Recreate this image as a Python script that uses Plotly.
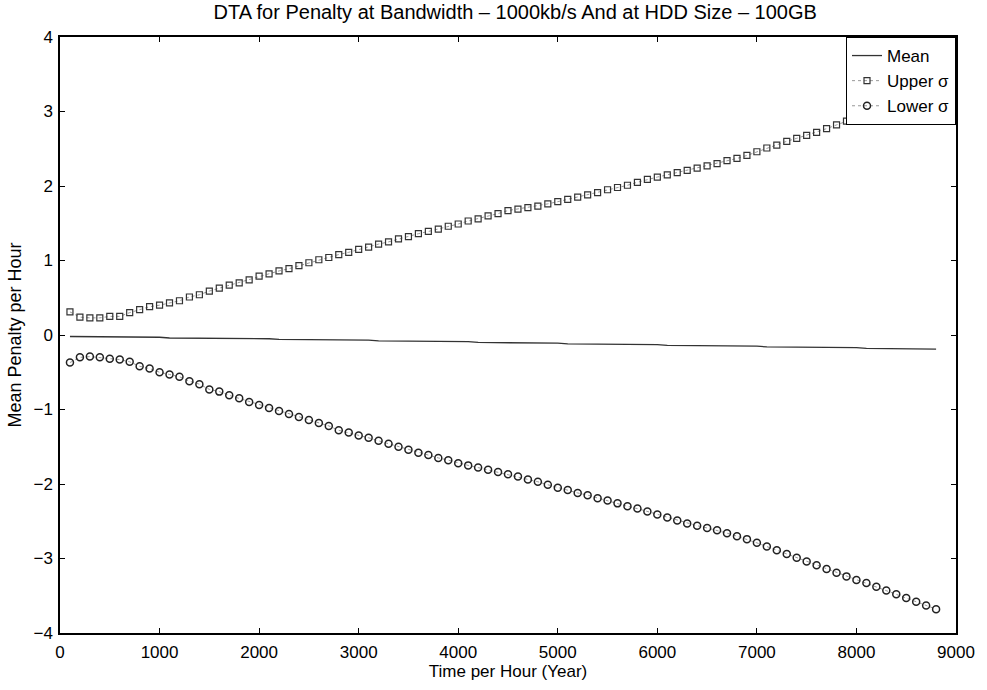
import plotly.graph_objects as go

# time points (hours)
hours = list(range(100, 8900, 100))

upper_sigma = [
    0.31, 0.24, 0.23, 0.23, 0.25, 0.25, 0.30, 0.34, 0.38, 0.40,
    0.43, 0.46, 0.51, 0.54, 0.59, 0.63, 0.67, 0.70, 0.74, 0.79,
    0.82, 0.86, 0.89, 0.93, 0.97, 1.01, 1.04, 1.08, 1.11, 1.15,
    1.18, 1.22, 1.25, 1.29, 1.32, 1.36, 1.39, 1.42, 1.46, 1.49,
    1.53, 1.56, 1.60, 1.63, 1.67, 1.69, 1.71, 1.73, 1.76, 1.79,
    1.82, 1.85, 1.88, 1.91, 1.95, 1.98, 2.01, 2.05, 2.09, 2.12,
    2.15, 2.18, 2.21, 2.24, 2.27, 2.30, 2.34, 2.37, 2.41, 2.46,
    2.51, 2.55, 2.60, 2.64, 2.68, 2.72, 2.77, 2.82, 2.87, 2.92,
    2.96, 3.01, 3.06, 3.10, 3.15, 3.19, 3.24, 3.28,
]

lower_sigma = [
    -0.37, -0.30, -0.29, -0.30, -0.32, -0.33, -0.36, -0.42, -0.45, -0.50,
    -0.53, -0.56, -0.62, -0.66, -0.73, -0.76, -0.81, -0.85, -0.90, -0.94,
    -0.98, -1.02, -1.06, -1.10, -1.14, -1.18, -1.22, -1.28, -1.31, -1.35,
    -1.38, -1.42, -1.46, -1.50, -1.54, -1.58, -1.61, -1.65, -1.68, -1.72,
    -1.75, -1.78, -1.81, -1.84, -1.87, -1.90, -1.94, -1.97, -2.01, -2.05,
    -2.08, -2.12, -2.15, -2.19, -2.22, -2.26, -2.30, -2.33, -2.37, -2.41,
    -2.45, -2.49, -2.53, -2.56, -2.59, -2.62, -2.66, -2.70, -2.74, -2.79,
    -2.84, -2.89, -2.94, -2.99, -3.04, -3.09, -3.14, -3.19, -3.24, -3.29,
    -3.33, -3.38, -3.43, -3.48, -3.53, -3.58, -3.63, -3.68,
]

mean_penalty = [
    -0.02, -0.02, -0.02, -0.02, -0.02, -0.03, -0.03, -0.03, -0.03, -0.03,
    -0.04, -0.04, -0.04, -0.04, -0.04, -0.04, -0.05, -0.05, -0.05, -0.05,
    -0.05, -0.06, -0.06, -0.06, -0.06, -0.06, -0.07, -0.07, -0.07, -0.07,
    -0.07, -0.08, -0.08, -0.08, -0.08, -0.08, -0.09, -0.09, -0.09, -0.09,
    -0.09, -0.10, -0.10, -0.10, -0.10, -0.10, -0.11, -0.11, -0.11, -0.11,
    -0.12, -0.12, -0.12, -0.12, -0.12, -0.13, -0.13, -0.13, -0.13, -0.13,
    -0.14, -0.14, -0.14, -0.14, -0.14, -0.15, -0.15, -0.15, -0.15, -0.15,
    -0.16, -0.16, -0.16, -0.16, -0.16, -0.17, -0.17, -0.17, -0.17, -0.17,
    -0.18, -0.18, -0.18, -0.18, -0.18, -0.19, -0.19, -0.19,
]

font = "Liberation Sans, Arial, sans-serif"

fig = go.Figure()
fig.add_trace(go.Scatter(x=hours, y=mean_penalty, mode="lines", name="Mean",
                         line=dict(color="#333333", width=1.3)))
fig.add_trace(go.Scatter(x=hours, y=upper_sigma, mode="lines+markers", name="Upper σ",
                         line=dict(color="#999999", width=1, dash="dot"),
                         marker=dict(symbol="square-open", size=6, color="#333333",
                                     line=dict(width=1.2))))
fig.add_trace(go.Scatter(x=hours, y=lower_sigma, mode="lines+markers", name="Lower σ",
                         line=dict(color="#999999", width=1, dash="dot"),
                         marker=dict(symbol="circle-open", size=7, color="#222222",
                                     line=dict(width=1.5))))

axis_style = dict(showline=True, linecolor="black", linewidth=1.5, mirror="ticks",
                  ticks="inside", ticklen=5, tickcolor="black", showgrid=False,
                  zeroline=False, tickfont=dict(family=font, size=17, color="black"))

fig.update_xaxes(range=[0, 9000], dtick=1000, title_text="Time per Hour (Year)",
                 title_font=dict(family=font, size=17, color="black"),
                 ticklabelstandoff=3, title_standoff=4, **axis_style)
fig.update_yaxes(range=[-4, 4], dtick=1, title_text="Mean Penalty per Hour",
                 title_font=dict(family=font, size=18, color="black"),
                 ticklabelstandoff=2, title_standoff=7, **axis_style)

fig.update_layout(
    width=987, height=690,
    paper_bgcolor="white", plot_bgcolor="white",
    margin=dict(l=60, r=31, t=37, b=50),
    title=dict(text="DTA for Penalty at Bandwidth – 1000kb/s And at HDD Size – 100GB",
               x=0.522, xanchor="center", y=0.983, yanchor="middle",
               font=dict(family=font, size=20, color="black")),
    legend=dict(x=1, y=1, xanchor="right", yanchor="top",
                bgcolor="white", bordercolor="black", borderwidth=1,
                font=dict(family=font, size=17, color="black"),
                itemwidth=30, tracegroupgap=0),
    showlegend=True,
)

# drop the browser's default page margin so the figure sits at the window's corner
fig.write_html("out.html", config={"displayModeBar": False},
               post_script="document.body.style.margin='0';")
